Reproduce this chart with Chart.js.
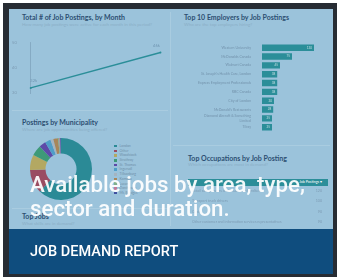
<!DOCTYPE html>
<html>
<head>
<meta charset="utf-8">
<script src="https://cdn.jsdelivr.net/npm/chart.js@4.4.1/dist/chart.umd.min.js"></script>
<style>
html, body { margin: 0; padding: 0; background: #fff; width: 337px; height: 277px; overflow: hidden; }
.abs { position: absolute; }
#frame { left: 3px; top: 3px; width: 334px; height: 274px; background: #272c33; }
#dash { left: 9px; top: 9px; width: 324px; height: 220px; background: #9bc3db; }
#band { left: 9px; top: 229px; width: 324px; height: 45px; background: #0f4d7e; }
.vline { left: 170px; top: 12px; width: 1px; height: 214px; background: rgba(255,255,255,0.15); }
.hline { height: 1px; background: rgba(255,255,255,0.15); }
.title { font-family: Lato, sans-serif; font-weight: bold; font-size: 7px; color: #2d4f72; white-space: nowrap; }
.sub { font-family: Lato, sans-serif; font-size: 4.5px; color: #8aaec6; white-space: nowrap; }
.leg { font-family: Lato, sans-serif; font-size: 3.4px; color: #6f90a9; white-space: nowrap; line-height: 4px; }
.leg i { display: inline-block; width: 2.6px; height: 2.6px; margin-right: 3px; vertical-align: middle; }
.row { font-family: Lato, sans-serif; font-size: 3.6px; color: #7d9cb4; white-space: nowrap; }
#overlay { left: 30px; top: 172px; font-family: Roboto, sans-serif; font-weight: 500; font-size: 22.3px; line-height: 24px; color: rgba(255,255,255,0.93); white-space: nowrap; }
#report { left: 30px; top: 243px; font-family: Roboto, sans-serif; font-weight: 500; font-size: 14.5px; color: #fff; white-space: nowrap; }
</style>
</head>
<body>
<div id="frame" class="abs"></div>
<div id="dash" class="abs"></div>
<div id="band" class="abs"></div>
<div class="abs vline"></div>
<div class="abs hline" style="left:12px;top:110px;width:156px"></div>
<div class="abs hline" style="left:173px;top:145px;width:157px"></div>
<div class="abs hline" style="left:12px;top:208px;width:156px"></div>

<div class="abs title" style="left:22px;top:13px">Total # of Job Postings, by Month</div>
<div class="abs sub" style="left:22px;top:22px">How many job postings were active for each month in this period?</div>
<canvas id="lineChart" class="abs" width="160" height="70" style="left:10px;top:34px"></canvas>

<div class="abs title" style="left:184px;top:13px">Top 10 Employers by Job Postings</div>
<div class="abs sub" style="left:184px;top:22px">Who are the top employers hiring?</div>
<canvas id="barChart" class="abs" width="152" height="102" style="left:178px;top:38px"></canvas>

<div class="abs title" style="left:22px;top:118px">Postings by Municipality</div>
<div class="abs sub" style="left:22px;top:127px">Where are job opportunities being offered?</div>
<canvas id="pieChart" class="abs" width="62" height="62" style="left:30px;top:138px"></canvas>
<div id="legend" class="abs" style="left:114px;top:144px"></div>

<div class="abs title" style="left:22px;top:212px">Top Jobs</div>
<div class="abs sub" style="left:22px;top:221px">What skills are in demand?</div>

<div class="abs title" style="left:188px;top:154px">Top Occupations by Job Posting</div>
<div class="abs sub" style="left:188px;top:162px">Which occupations are most in demand?</div>
<div id="table" class="abs" style="left:188px;top:179px;width:140px"></div>

<div id="overlay" class="abs">Available jobs by area, type,<br>sector and duration.</div>
<div id="report" class="abs">JOB DEMAND REPORT</div>

<script>
// monthly job postings (thousands)
const months = ['Jan 2019', 'Jul 2019'];
const postings = [32, 46];

// top employers
const employers = ['Western University', 'McDonalds Canada', 'Walmart Canada',
  "St. Joseph's Health Care, London", 'Express Employment Professionals', 'RBC Canada',
  'City of London', "McDonald's Restaurants", ['Diamond Aircraft & Something', 'Limited'], 'Tilray'];
const employerPostings = [130, 75, 45, 38, 38, 38, 30, 28, 25, 25];
const employerTicks = [0, 50, 100, 150];

// municipalities (share of postings)
const municipalities = ['London', 'Other', 'Woodstock', 'Strathroy', 'St. Thomas', 'Ingersoll',
  'Tillsonburg', 'Komoka', 'Lucan', 'Dorchester', 'Mt. Brydges'];
const municipalityShare = [62, 12.5, 8, 5.5, 3.5, 3, 1.5, 2.5, 0.6, 0.5, 0.4];

// top occupations
const occupations = ['Retail salespersons and visual merchandisers', 'Transport truck drivers',
  'Cooks', 'Other customer and information services representatives'];
const occupationPostings = [120, 100, 90, 90];

const teal = '#2b8e99';
const palette = ['#2b8a96', '#9a4c62', '#b3a862', '#3e9a78', '#5d4aa8', '#4f9ec8',
  '#a4b4c0', '#a8865a', '#7fb08a', '#c07a9a', '#4050a0'];
const tickColor = '#7d9bb3';

Chart.defaults.font.family = 'Lato';
Chart.defaults.animation = false;

const pointLabels = {
  id: 'pointLabels',
  afterDatasetsDraw(chart) {
    const ctx = chart.ctx;
    const meta = chart.getDatasetMeta(0);
    ctx.save();
    ctx.font = '4px Lato';
    ctx.fillStyle = '#6f95b0';
    ctx.textAlign = 'center';
    meta.data.forEach((p, i) => {
      ctx.fillText(postings[i] + 'k', p.x + (i === 0 ? 3 : -4), p.y - 6);
    });
    ctx.restore();
  }
};

new Chart(document.getElementById('lineChart'), {
  type: 'line',
  data: {
    labels: months,
    datasets: [{
      data: postings,
      borderColor: teal,
      borderWidth: 1.4,
      pointRadius: 1,
      pointBackgroundColor: teal,
      pointBorderWidth: 0,
      tension: 0
    }]
  },
  options: {
    responsive: false,
    events: [],
    layout: { padding: { top: 6, right: 8 } },
    plugins: { legend: { display: false }, tooltip: { enabled: false } },
    scales: {
      x: {
        grid: { display: false },
        border: { display: false },
        ticks: { font: { size: 4 }, color: tickColor, padding: 2, maxRotation: 0 },
        afterFit(s) { s.height = 11; }
      },
      y: {
        min: 30, max: 50,
        grid: { display: false },
        border: { color: '#7fa3bd', width: 0.8 },
        ticks: { stepSize: 10, font: { size: 4 }, color: tickColor, padding: 6 },
        afterFit(s) { s.width = 20.7; }
      }
    }
  },
  plugins: [pointLabels]
});

const barLabels = {
  id: 'barLabels',
  afterDatasetsDraw(chart) {
    const ctx = chart.ctx;
    ctx.save();
    ctx.font = '3px Lato';
    ctx.fillStyle = 'rgba(255,255,255,0.7)';
    ctx.textAlign = 'right';
    ctx.textBaseline = 'middle';
    chart.getDatasetMeta(0).data.forEach((b, i) => {
      ctx.fillText(employerPostings[i], b.x - 2, b.y);
    });
    ctx.restore();
  }
};

new Chart(document.getElementById('barChart'), {
  type: 'bar',
  data: {
    labels: employers,
    datasets: [{
      data: employerPostings,
      backgroundColor: teal,
      barPercentage: 0.73,
      categoryPercentage: 1
    }]
  },
  options: {
    indexAxis: 'y',
    responsive: false,
    events: [],
    layout: { padding: { top: 1.5, right: 8 } },
    plugins: { legend: { display: false }, tooltip: { enabled: false } },
    scales: {
      x: {
        min: 0, max: 150,
        grid: { display: false },
        border: { display: false },
        afterBuildTicks(s) { s.ticks = employerTicks.map(v => ({ value: v })); },
        ticks: { font: { size: 3.5 }, color: tickColor, padding: 2 },
        afterFit(s) { s.height = 8.4; }
      },
      y: {
        grid: { display: false },
        border: { display: false },
        ticks: { autoSkip: false, font: { size: 3.5, lineHeight: 1.3 }, color: '#7393ac', padding: 3 },
        afterFit(s) { s.width = 84; }
      }
    }
  },
  plugins: [barLabels]
});

new Chart(document.getElementById('pieChart'), {
  type: 'doughnut',
  data: {
    labels: municipalities,
    datasets: [{ data: municipalityShare, backgroundColor: palette, borderWidth: 0 }]
  },
  options: {
    responsive: false,
    events: [],
    cutout: '50%',
    plugins: { legend: { display: false }, tooltip: { enabled: false } }
  }
});

// legend for the doughnut
const legend = document.getElementById('legend');
municipalities.forEach((m, i) => {
  const d = document.createElement('div');
  d.className = 'leg';
  d.style.height = '4.7px';
  d.innerHTML = '<i style="background:' + palette[i] + '"></i>' + m;
  legend.appendChild(d);
});

// occupations table
const table = document.getElementById('table');
const head = document.createElement('div');
head.style.cssText = 'height:6.5px;background:' + teal + ';font:3.6px Lato;color:#fff;text-align:right;padding-right:6px;line-height:6.5px;';
head.textContent = 'Job Postings \u25BE';
table.appendChild(head);
occupations.forEach((o, i) => {
  const r = document.createElement('div');
  r.className = 'row';
  r.style.cssText = 'position:relative;height:10.5px;line-height:10.5px;padding-left:4px;';
  r.innerHTML = o + '<span style="position:absolute;right:6px">' + occupationPostings[i] + '</span>';
  table.appendChild(r);
});
</script>
</body>
</html>
